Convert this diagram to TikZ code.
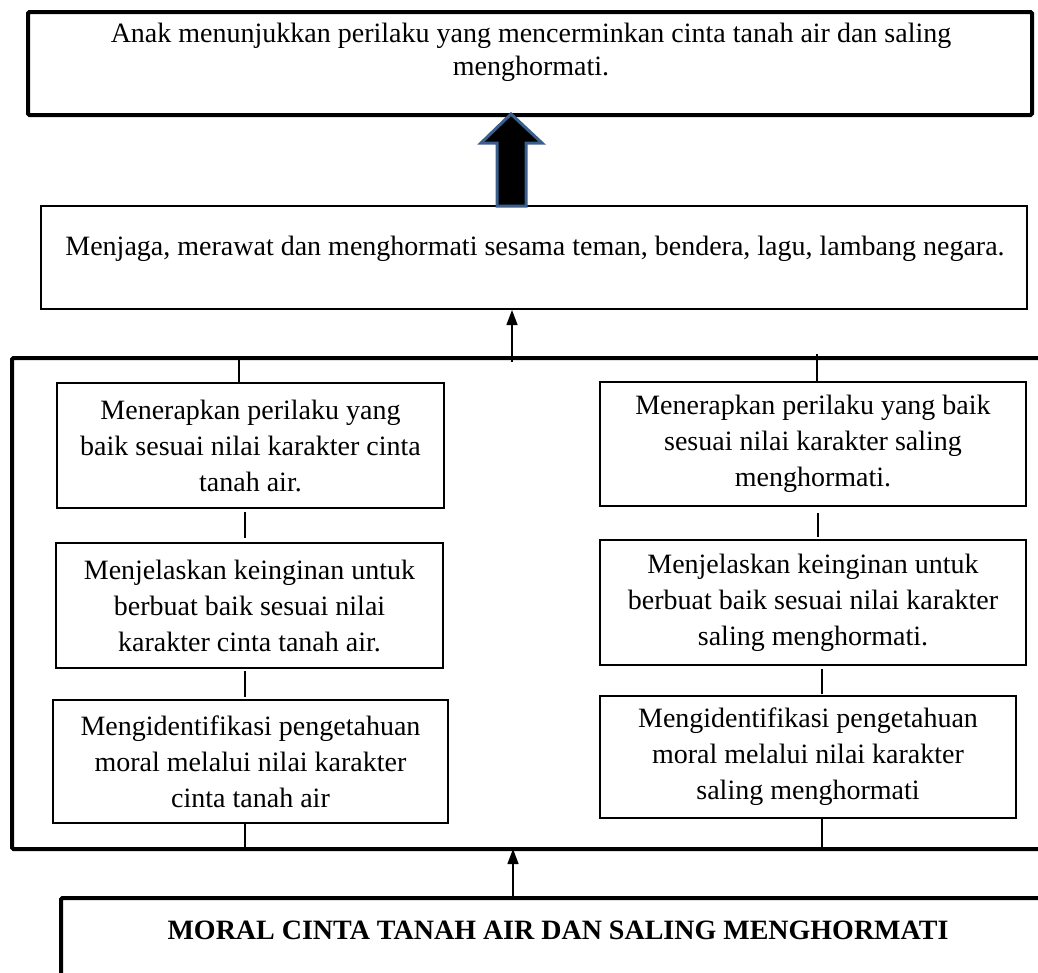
\documentclass[tikz,border=0pt]{standalone}
\usepackage{fontspec}
\setmainfont{Liberation Serif}
\usetikzlibrary{arrows.meta}
\begin{document}
\begin{tikzpicture}[x=1pt,y=-1pt,
  smallbox/.style={draw, line width=2.2pt, rectangle, align=center, inner sep=0pt,
    font=\fontsize{28}{36}\selectfont},
  bigbox/.style={draw, rectangle, inner sep=0pt},
  conn/.style={line width=1.4pt},
  uparrow/.style={line width=1.4pt, -{Triangle[length=15pt,width=11pt]}},
  txt/.style={inner sep=0pt, align=center, font=\fontsize{28}{33}\selectfont},
  framepath/.style={line width=4pt, rounded corners=1.5pt}]
\useasboundingbox (0,0) rectangle (1038,972);

% top box
\node[bigbox, line width=4pt, rounded corners=1.5pt, minimum width=1004pt, minimum height=103pt] (T) at (530,63.5) {};
\node[txt] (Tt) at (531,52) {Anak menunjukkan perilaku yang mencerminkan cinta tanah air dan saling\\menghormati.};

% middle box
\node[bigbox, line width=2pt, minimum width=986pt, minimum height=103pt] (M) at (534,257.5) {};
\node[txt, anchor=base] (Mt) at (535,255) {Menjaga, merawat dan menghormati sesama teman, bendera, lagu, lambang negara.};

% block arrow
\draw[line width=3pt, draw={rgb,255:red,58;green,95;blue,140}, fill=black, line join=miter]
  (511,114) -- (542,143) -- (526,143) -- (526,206) -- (497,206) -- (497,143) -- (481,143) -- cycle;

% big frame
\coordinate (FTL) at (12,358);
\coordinate (FBL) at (12,849);
\coordinate (FTR) at (1040,358);
\coordinate (FBR) at (1040,849);
\draw[framepath] (FTR) -- (FTL) -- (FBL) -- (FBR);

% left column
\node[smallbox, minimum width=387pt, minimum height=125pt] (L1) at (250.5,445.5)
  {Menerapkan perilaku yang\\baik sesuai nilai karakter cinta\\tanah air.};
\node[smallbox, minimum width=387pt, minimum height=125pt] (L2) at (249.5,605.5)
  {Menjelaskan keinginan untuk\\berbuat baik sesuai nilai\\karakter cinta tanah air.};
\node[smallbox, minimum width=395pt, minimum height=123pt] (L3) at (250.5,761.5)
  {Mengidentifikasi pengetahuan\\moral melalui nilai karakter\\cinta tanah air};

% right column
\node[smallbox, minimum width=426pt, minimum height=124pt] (R1) at (813,444)
  {Menerapkan perilaku yang baik\\sesuai nilai karakter saling\\menghormati.};
\node[smallbox, minimum width=426pt, minimum height=125pt] (R2) at (813,602.5)
  {Menjelaskan keinginan untuk\\berbuat baik sesuai nilai karakter\\saling menghormati.};
\node[smallbox, minimum width=416pt, minimum height=122pt] (R3) at (808,757)
  {Mengidentifikasi pengetahuan\\moral melalui nilai karakter\\saling menghormati};

% connectors left
\coordinate (xl0) at (239,358);
\coordinate (xl) at (245,0);
\draw[conn] (xl0) -- (xl0 |- L1.north);
\draw[conn, shorten <=3pt, shorten >=4pt] (xl |- L1.south) -- (xl |- L2.north);
\draw[conn, shorten <=2pt, shorten >=2pt] (xl |- L2.south) -- (xl |- L3.north);
\draw[conn] (xl |- L3.south) -- (xl |- FBL);

% connectors right
\coordinate (xr0) at (817,354);
\coordinate (xr1) at (818,0);
\coordinate (xr2) at (822,0);
\draw[conn] (xr0) -- (xr0 |- R1.north);
\draw[conn, shorten <=6pt, shorten >=2pt] (xr1 |- R1.south) -- (xr1 |- R2.north);
\draw[conn, shorten <=3pt, shorten >=1pt] (xr2 |- R2.south) -- (xr2 |- R3.north);
\draw[conn] (xr2 |- R3.south) -- (xr2 |- FBL);

% arrow frame -> middle box
\coordinate (am) at (512,362);
\draw[uparrow] (am) -- (am |- M.south);

% bottom box
\coordinate (BTL) at (61,898);
\coordinate (BTR) at (1040,898);
\coordinate (BBL) at (61,980);
\draw[framepath] (BTR) -- (BTL) -- (BBL);
\node[txt, anchor=base, font=\bfseries\fontsize{28}{33}\selectfont] (Bt) at (558,939)
  {MORAL CINTA TANAH AIR DAN SALING MENGHORMATI};

% arrow bottom box -> frame
\coordinate (ab) at (513,898);
\draw[uparrow] (ab) -- (ab |- FBL);
\end{tikzpicture}
\end{document}
